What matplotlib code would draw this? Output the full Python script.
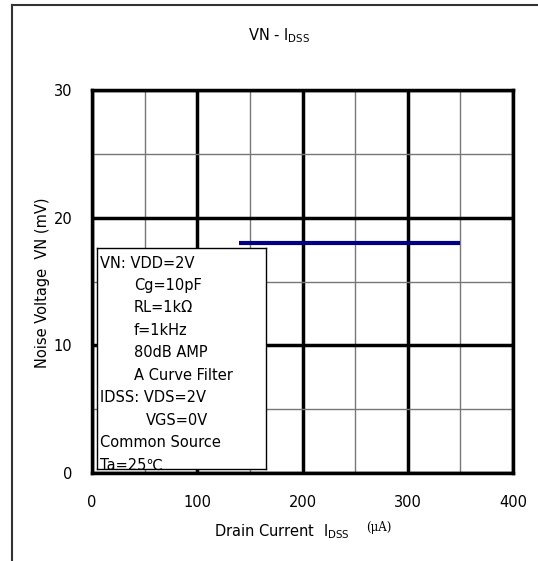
import matplotlib
matplotlib.use("Agg")
import matplotlib.pyplot as plt
from matplotlib.ticker import MultipleLocator

plt.rcParams['font.family'] = ['DejaVu Sans', 'Noto Sans CJK JP']

# Data
idss = [140, 350]          # Drain current (uA)
vn = [18, 18]              # Noise voltage (mV)
x_ticks = [0, 100, 200, 300, 400]
y_ticks = [0, 10, 20, 30]
cond_lines = ["VN: VDD=2V", "Cg=10pF", "RL=1kΩ", "f=1kHz",
              "80dB AMP", "A Curve Filter", "IDSS: VDS=2V",
              "VGS=0V", "Common Source", "Ta=25℃"]
cond_indent = [0, 1, 1, 1, 1, 1, 0, 2, 0, 0]

W, H = 538, 561
fig = plt.figure(figsize=(W/100, H/100), dpi=100)

# Outer frame (left and top only)
fig.add_artist(plt.Line2D([12/W, 12/W], [0, 1 - 5/H], color='#333333', lw=1.5))
fig.add_artist(plt.Line2D([12/W, 1], [1 - 5/H, 1 - 5/H], color='#333333', lw=1.5))

L, R, T, B = 92, 513, 90, 473
ax = fig.add_axes([L/W, 1 - B/H, (R-L)/W, (B-T)/H])
ax.set_xlim(0, 400)
ax.set_ylim(0, 30)
ax.set_xticks(x_ticks)
ax.set_yticks(y_ticks)
ax.xaxis.set_minor_locator(MultipleLocator(50))
ax.yaxis.set_minor_locator(MultipleLocator(5))
ax.grid(which='major', color='black', lw=2.5)
ax.grid(which='minor', color='#777777', lw=1)
ax.set_axisbelow(True)
ax.tick_params(which='both', length=0, labelsize=10.5)
ax.tick_params(axis='x', pad=16)
ax.tick_params(axis='y', pad=14)
for s in ax.spines.values():
    s.set_linewidth(2.5)
    s.set_color('black')

ax.plot(idss, vn, color='#000080', lw=3, solid_capstyle='butt', zorder=3)

# Conditions box
bx0, by0, bx1, by1 = 97, 248, 266, 469
ax_box = fig.add_axes([bx0/W, 1 - by1/H, (bx1-bx0)/W, (by1-by0)/H])
ax_box.set_xticks([]); ax_box.set_yticks([])
ax_box.set_xlim(0, 1); ax_box.set_ylim(0, 1)
for s in ax_box.spines.values():
    s.set_linewidth(1)
    s.set_color('black')
indent_px = {0: 100, 1: 134, 2: 146}
y0 = 263
step = (465 - 263) / 9
for i, (t, ind) in enumerate(zip(cond_lines, cond_indent)):
    yp = y0 + i * step
    fig.text(indent_px[ind]/W, 1 - yp/H, t, fontsize=10.5, va='center', ha='left')

# Title
fig.text(279/W, 1 - 36/H, r'VN - $\mathrm{I}_{\mathsf{DSS}}$', fontsize=10.5, ha='center', va='center')

# Axis labels
fig.text(214/W, 1 - 536/H, r'Drain Current  $\mathrm{I}_{\mathsf{DSS}}$', fontsize=10.5, ha='left', va='baseline')
fig.text(366/W, 1 - 531/H, '(μA)', fontsize=8.5, ha='left', va='baseline', family='DejaVu Serif')
fig.text(43/W, 1 - 283/H, 'Noise Voltage  VN (mV)', fontsize=10.5, ha='center', va='center', rotation=90)

fig.savefig('out.png', dpi=100)
